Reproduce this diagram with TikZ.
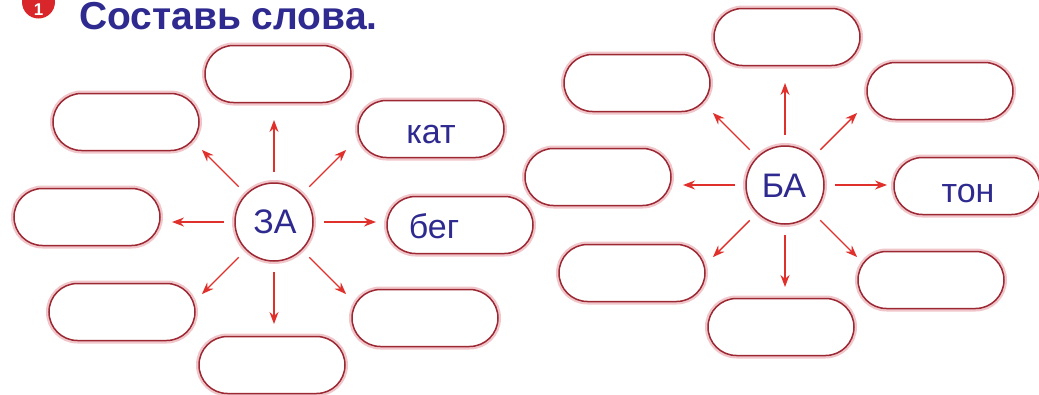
\documentclass[tikz,border=0pt]{standalone}
\usepackage{fontspec}
\setmainfont{Liberation Sans}
\usetikzlibrary{arrows.meta,calc}
\definecolor{ink}{HTML}{2E2A8F}
\definecolor{rim}{HTML}{9C2833}
\definecolor{glow}{HTML}{F0C6CA}
\definecolor{arr}{HTML}{E0302B}
\definecolor{badge}{HTML}{D8262A}
\tikzset{
  wordbox/.style={draw=rim, line width=1.5pt, fill=white, rectangle,
    rounded corners=28.5pt, minimum width=146pt, minimum height=57pt,
    inner sep=0pt, preaction={draw=glow, line width=6pt}},
  hub/.style={draw=rim, line width=1.5pt, fill=white, circle,
    minimum size=78pt, inner sep=0pt, preaction={draw=glow, line width=6pt}},
  lbl/.style={text=ink, font=\fontsize{34}{40}\selectfont, inner sep=0pt, anchor=base},
  ray/.style={draw=arr, line width=1.4pt, -{Stealth[length=12pt,width=9pt]}}
}
\begin{document}
\begin{tikzpicture}[x=1pt,y=-1pt]
\useasboundingbox (0,0) rectangle (1039,394);
\fill[white] (0,0) rectangle (1039,394);
% title
\node[circle, fill=badge, minimum size=33pt, inner sep=0pt] (badge) at (38.5,2) {};
\node[text=white, font=\fontsize{17}{20}\bfseries\selectfont, inner sep=0pt, anchor=base] (one) at (38.5,15) {1};
\node[text=ink, font=\fontsize{39}{46}\bfseries\selectfont, inner sep=0pt, anchor=base west] (title) at (79,29) {Составь слова.};
% left cluster
\node[wordbox] (l1) at (278,74) {};
\node[wordbox] (l2) at (126,122) {};
\node[wordbox] (l3) at (431,129) {};
\node[wordbox] (l4) at (87,217) {};
\node[wordbox] (l5) at (460,225) {};
\node[wordbox] (l6) at (122,312) {};
\node[wordbox] (l7) at (425,318) {};
\node[wordbox] (l8) at (272,365) {};
\node[hub] (za) at (274,222) {};
\node[lbl] (zat) at (275,233) {ЗА};
\node[lbl] (kat) at (431,143) {кат};
\node[lbl] (beg) at (434,238) {бег};
\foreach \a in {0,45,...,315}
  \draw[ray] ($(za)+(\a:50)$) coordinate (zs\a) -- ($(za)+(\a:102)$) coordinate (ze\a);
% right cluster
\node[wordbox] (r1) at (787,37) {};
\node[wordbox] (r2) at (637,83) {};
\node[wordbox] (r3) at (940,91) {};
\node[wordbox] (r4) at (598,177) {};
\node[wordbox] (r5) at (967,186) {};
\node[wordbox] (r6) at (632,273) {};
\node[wordbox] (r7) at (931,280) {};
\node[wordbox] (r8) at (781,327) {};
\node[hub] (ba) at (785,185) {};
\node[lbl] (bat) at (784,197) {БА};
\node[lbl] (ton) at (968,202) {тон};
\foreach \a in {0,45,...,315}
  \draw[ray] ($(ba)+(\a:50)$) coordinate (bs\a) -- ($(ba)+(\a:102)$) coordinate (be\a);
\end{tikzpicture}
\end{document}
